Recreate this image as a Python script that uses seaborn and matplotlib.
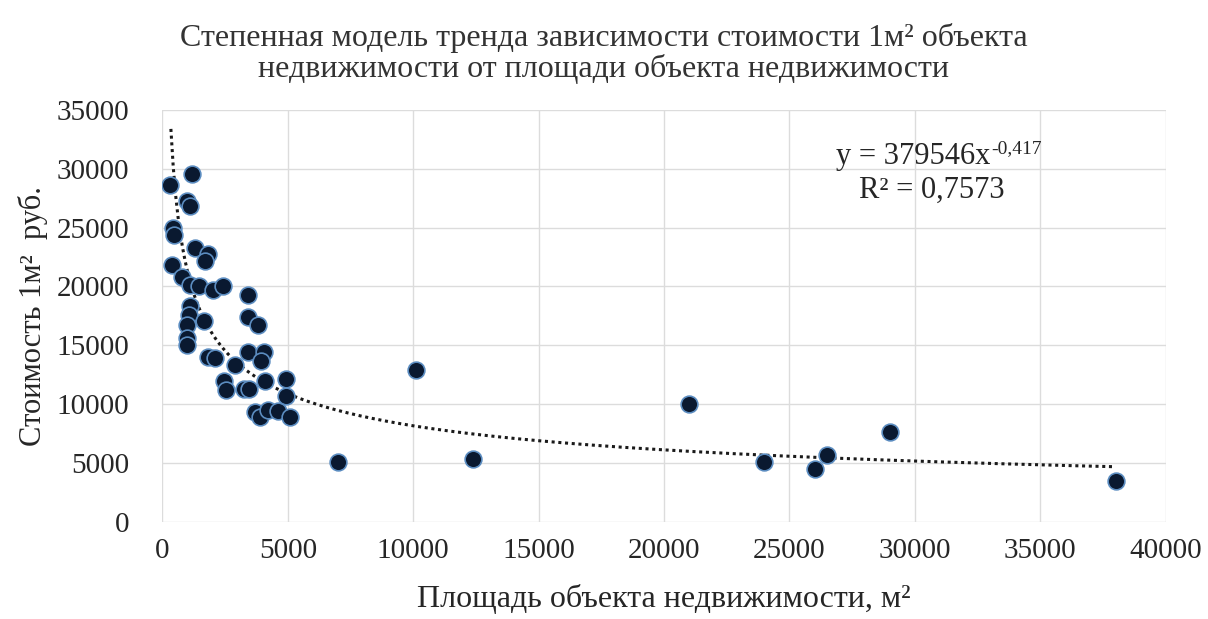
import numpy as np
import pandas as pd
import matplotlib
matplotlib.use("Agg")
import matplotlib.pyplot as plt
import seaborn as sns

# Data
area = [300, 1190, 1000, 1100, 420, 450, 400, 800, 1300, 1830, 1700, 1100, 1470,
        2000, 2400, 3400, 3400, 3800, 1100, 1050, 1000, 1000, 1000, 1670, 1830,
        2100, 2900, 3400, 4050, 3930, 4100, 2450, 2530, 3250, 3450, 4930, 4930,
        3700, 3880, 4200, 4600, 5100, 7000, 10100, 12400, 21000, 24000, 26000,
        26500, 29000, 38000]
price = [28600, 29600, 27300, 26800, 25000, 24400, 21800, 20800, 23300, 22800,
         22200, 20100, 20000, 19700, 20000, 19300, 17400, 16700, 18300, 17600,
         16700, 15600, 15000, 17100, 14000, 13900, 13300, 14400, 14400, 13700,
         12000, 12000, 11200, 11300, 11300, 12100, 10700, 9300, 8900, 9500, 9400,
         8900, 5100, 12900, 5300, 10000, 5100, 4500, 5700, 7600, 3450]

coef_a = 379546
coef_b = -0.417
eq_main = "y = 379546x"
eq_exp = "-0,417"
r2_text = "R² = 0,7573"

x_ticks = [0, 5000, 10000, 15000, 20000, 25000, 30000, 35000, 40000]
y_ticks = [0, 5000, 10000, 15000, 20000, 25000, 30000, 35000]

title = "Степенная модель тренда зависимости стоимости 1м² объекта\nнедвижимости от площади объекта недвижимости"
xlabel = "Площадь объекта недвижимости, м²"
ylabel = "Стоимость 1м²  руб."

sns.set_style("whitegrid")
plt.rcParams['font.family'] = ['Liberation Serif', 'DejaVu Serif']

fig = plt.figure(figsize=(12.08, 6.19), dpi=100)
ax = fig.add_axes([0.1344, 0.1572, 0.8306, 0.6651])

df = pd.DataFrame({"area": area, "price": price})

# power trend line y = a * x^b
xt = np.linspace(340, 38000, 400)
yt = coef_a * xt ** coef_b
ax.plot(xt, yt, linestyle=(0, (1, 1.2)), color="#1a1a1a", linewidth=2.2, zorder=2)

sns.scatterplot(data=df, x="area", y="price", ax=ax, s=145, color="#0a1930",
                edgecolor="#5b8cc0", linewidth=1.2, zorder=3)

ax.set_xlim(0, 40000)
ax.set_ylim(0, 35000)
ax.set_xticks(x_ticks)
ax.set_yticks(y_ticks)
ax.set_xticklabels([str(v) for v in x_ticks], fontsize=21, color="#262626")
ax.set_yticklabels([str(v) for v in y_ticks], fontsize=21, color="#262626")
ax.tick_params(axis='x', pad=12, length=0)
ax.tick_params(axis='y', pad=24, length=0)
for s in ax.spines.values():
    s.set_visible(False)
ax.grid(True, color="#dcdcdc", linewidth=1.0)
ax.set_axisbelow(True)

ax.set_xlabel(xlabel, fontsize=23, labelpad=14, color="#262626")
ax.set_ylabel(ylabel, fontsize=22, labelpad=6, color="#262626")
fig.text(0.5, 0.9136, title, ha="center", va="center", fontsize=23, color="#333333",
         linespacing=1.05)

t1 = ax.text(0.748, 0.886, eq_main, transform=ax.transAxes,
             ha="center", va="center", fontsize=22, color="#262626")
ax.text(0.767, 0.806, r2_text, transform=ax.transAxes,
        ha="center", va="center", fontsize=22, color="#262626")
ax.annotate(eq_exp, xy=(1.0, 0.78), xycoords=t1, xytext=(1, 0),
            textcoords="offset points", ha="left", va="center", fontsize=14,
            color="#262626")

fig.savefig("out.png", dpi=100)
